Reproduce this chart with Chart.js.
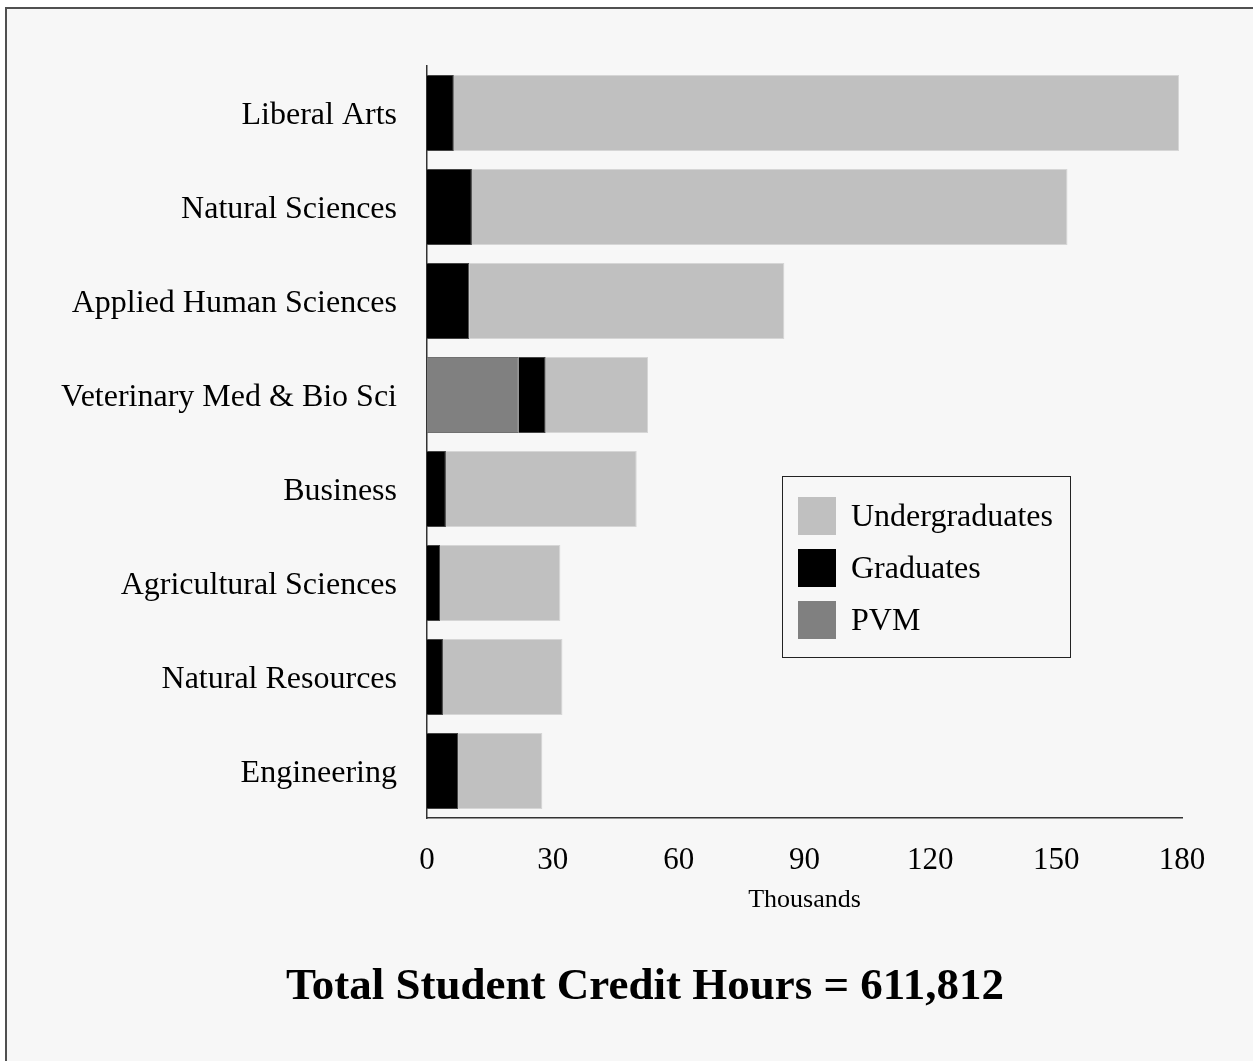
<!DOCTYPE html>
<html>
<head>
<meta charset="utf-8">
<title>Total Student Credit Hours</title>
<script src="https://cdn.jsdelivr.net/npm/chart.js@4.4.1/dist/chart.umd.min.js"></script>
<style>
  html, body { margin: 0; padding: 0; background: #ffffff; }
  #wrap { width: 1253px; height: 1061px; position: relative; }
</style>
</head>
<body>
<div id="wrap"><canvas id="creditChart" width="1253" height="1061"></canvas></div>
<script>
// Colleges, top to bottom
const colleges = ['Liberal Arts', 'Natural Sciences', 'Applied Human Sciences', 'Veterinary Med & Bio Sci',
    'Business', 'Agricultural Sciences', 'Natural Resources', 'Engineering'];

// Credit hours in thousands
const pvm = [0, 0, 0, 21.9, 0, 0, 0, 0];
const graduates = [6.4, 10.7, 10.1, 6.4, 4.5, 3.1, 3.8, 7.4];
const undergraduates = [172.9, 142.0, 75.1, 24.4, 45.5, 28.7, 28.5, 20.1];

const xTicks = [0, 30, 60, 90, 120, 150, 180];

const titleText = 'Total Student Credit Hours = 611,812';

const serif = "'Liberation Serif', 'Times New Roman', serif";

// Background and the frame lines at top / left
const frameBg = {
    id: 'frameBg',
    beforeDraw(chart) {
        const ctx = chart.ctx;
        ctx.save();
        ctx.fillStyle = '#ffffff';
        ctx.fillRect(0, 0, chart.width, chart.height);
        ctx.fillStyle = '#f7f7f7';
        ctx.fillRect(5, 7, chart.width - 5, chart.height - 7);
        ctx.strokeStyle = '#505050';
        ctx.lineWidth = 2;
        ctx.beginPath();
        ctx.moveTo(6, chart.height);
        ctx.lineTo(6, 8);
        ctx.lineTo(chart.width, 8);
        ctx.stroke();
        ctx.restore();
    }
};

// Boxed legend inside the plot, Undergraduates first, plus the bottom title
const boxLegend = {
    id: 'boxLegend',
    afterDraw(chart) {
        const ctx = chart.ctx;
        const order = [2, 1, 0];
        const left = 782, top = 476, w = 288, h = 181;
        ctx.save();
        ctx.strokeStyle = '#222';
        ctx.lineWidth = 1;
        ctx.strokeRect(left + 0.5, top + 0.5, w, h);
        ctx.font = '32px ' + serif;
        ctx.textBaseline = 'middle';
        order.forEach((di, i) => {
            const ds = chart.data.datasets[di];
            const cy = top + 40 + i * 52;
            ctx.fillStyle = ds.backgroundColor;
            ctx.fillRect(left + 16, cy - 19, 38, 38);
            ctx.fillStyle = '#000';
            ctx.fillText(ds.label, left + 69, cy + 2);
        });

        // title under the axis
        ctx.font = 'bold 45px ' + serif;
        ctx.textAlign = 'center';
        ctx.fillStyle = '#000';
        ctx.fillText(titleText, 645, 987);
        ctx.restore();
    }
};

const ctx = document.getElementById('creditChart').getContext('2d');
const creditChart = new Chart(ctx, {
    type: 'bar',
    data: {
        labels: colleges,
        datasets: [{
            label: 'PVM',
            data: pvm,
            backgroundColor: '#808080',
            borderColor: '#707070',
            borderWidth: 1
        }, {
            label: 'Graduates',
            data: graduates,
            backgroundColor: '#000000',
            borderColor: '#444444',
            borderWidth: 1
        }, {
            label: 'Undergraduates',
            data: undergraduates,
            backgroundColor: '#c0c0c0',
            borderColor: '#d6d6d6',
            borderWidth: 1
        }]
    },
    options: {
        indexAxis: 'y',
        responsive: false,
        animation: false,
        barPercentage: 0.81,
        categoryPercentage: 1.0,
        layout: {
            padding: { top: 66, left: 20, right: 71, bottom: 143 }
        },
        scales: {
            x: {
                stacked: true,
                min: 0,
                max: 180,
                afterBuildTicks(axis) {
                    axis.ticks = xTicks.map(v => ({ value: v }));
                },
                afterFit(axis) { axis.height = 100; },
                grid: { display: false, drawTicks: false },
                border: { display: true, color: '#333', width: 1.5 },
                ticks: {
                    padding: 24,
                    color: '#000',
                    font: { family: serif, size: 31 }
                },
                title: {
                    display: true,
                    text: 'Thousands',
                    color: '#000',
                    padding: { top: 0, bottom: 2 },
                    font: { family: serif, size: 26 }
                }
            },
            y: {
                stacked: true,
                afterFit(axis) { axis.width = 407; },
                grid: { display: false, drawTicks: false },
                border: { display: true, color: '#333', width: 1.5 },
                ticks: {
                    padding: 30,
                    labelOffset: 3,
                    color: '#000',
                    font: { family: serif, size: 32 }
                }
            }
        },
        plugins: {
            legend: { display: false },
            tooltip: { enabled: false },
            title: { display: false }
        }
    },
    plugins: [frameBg, boxLegend]
});
</script>
</body>
</html>
